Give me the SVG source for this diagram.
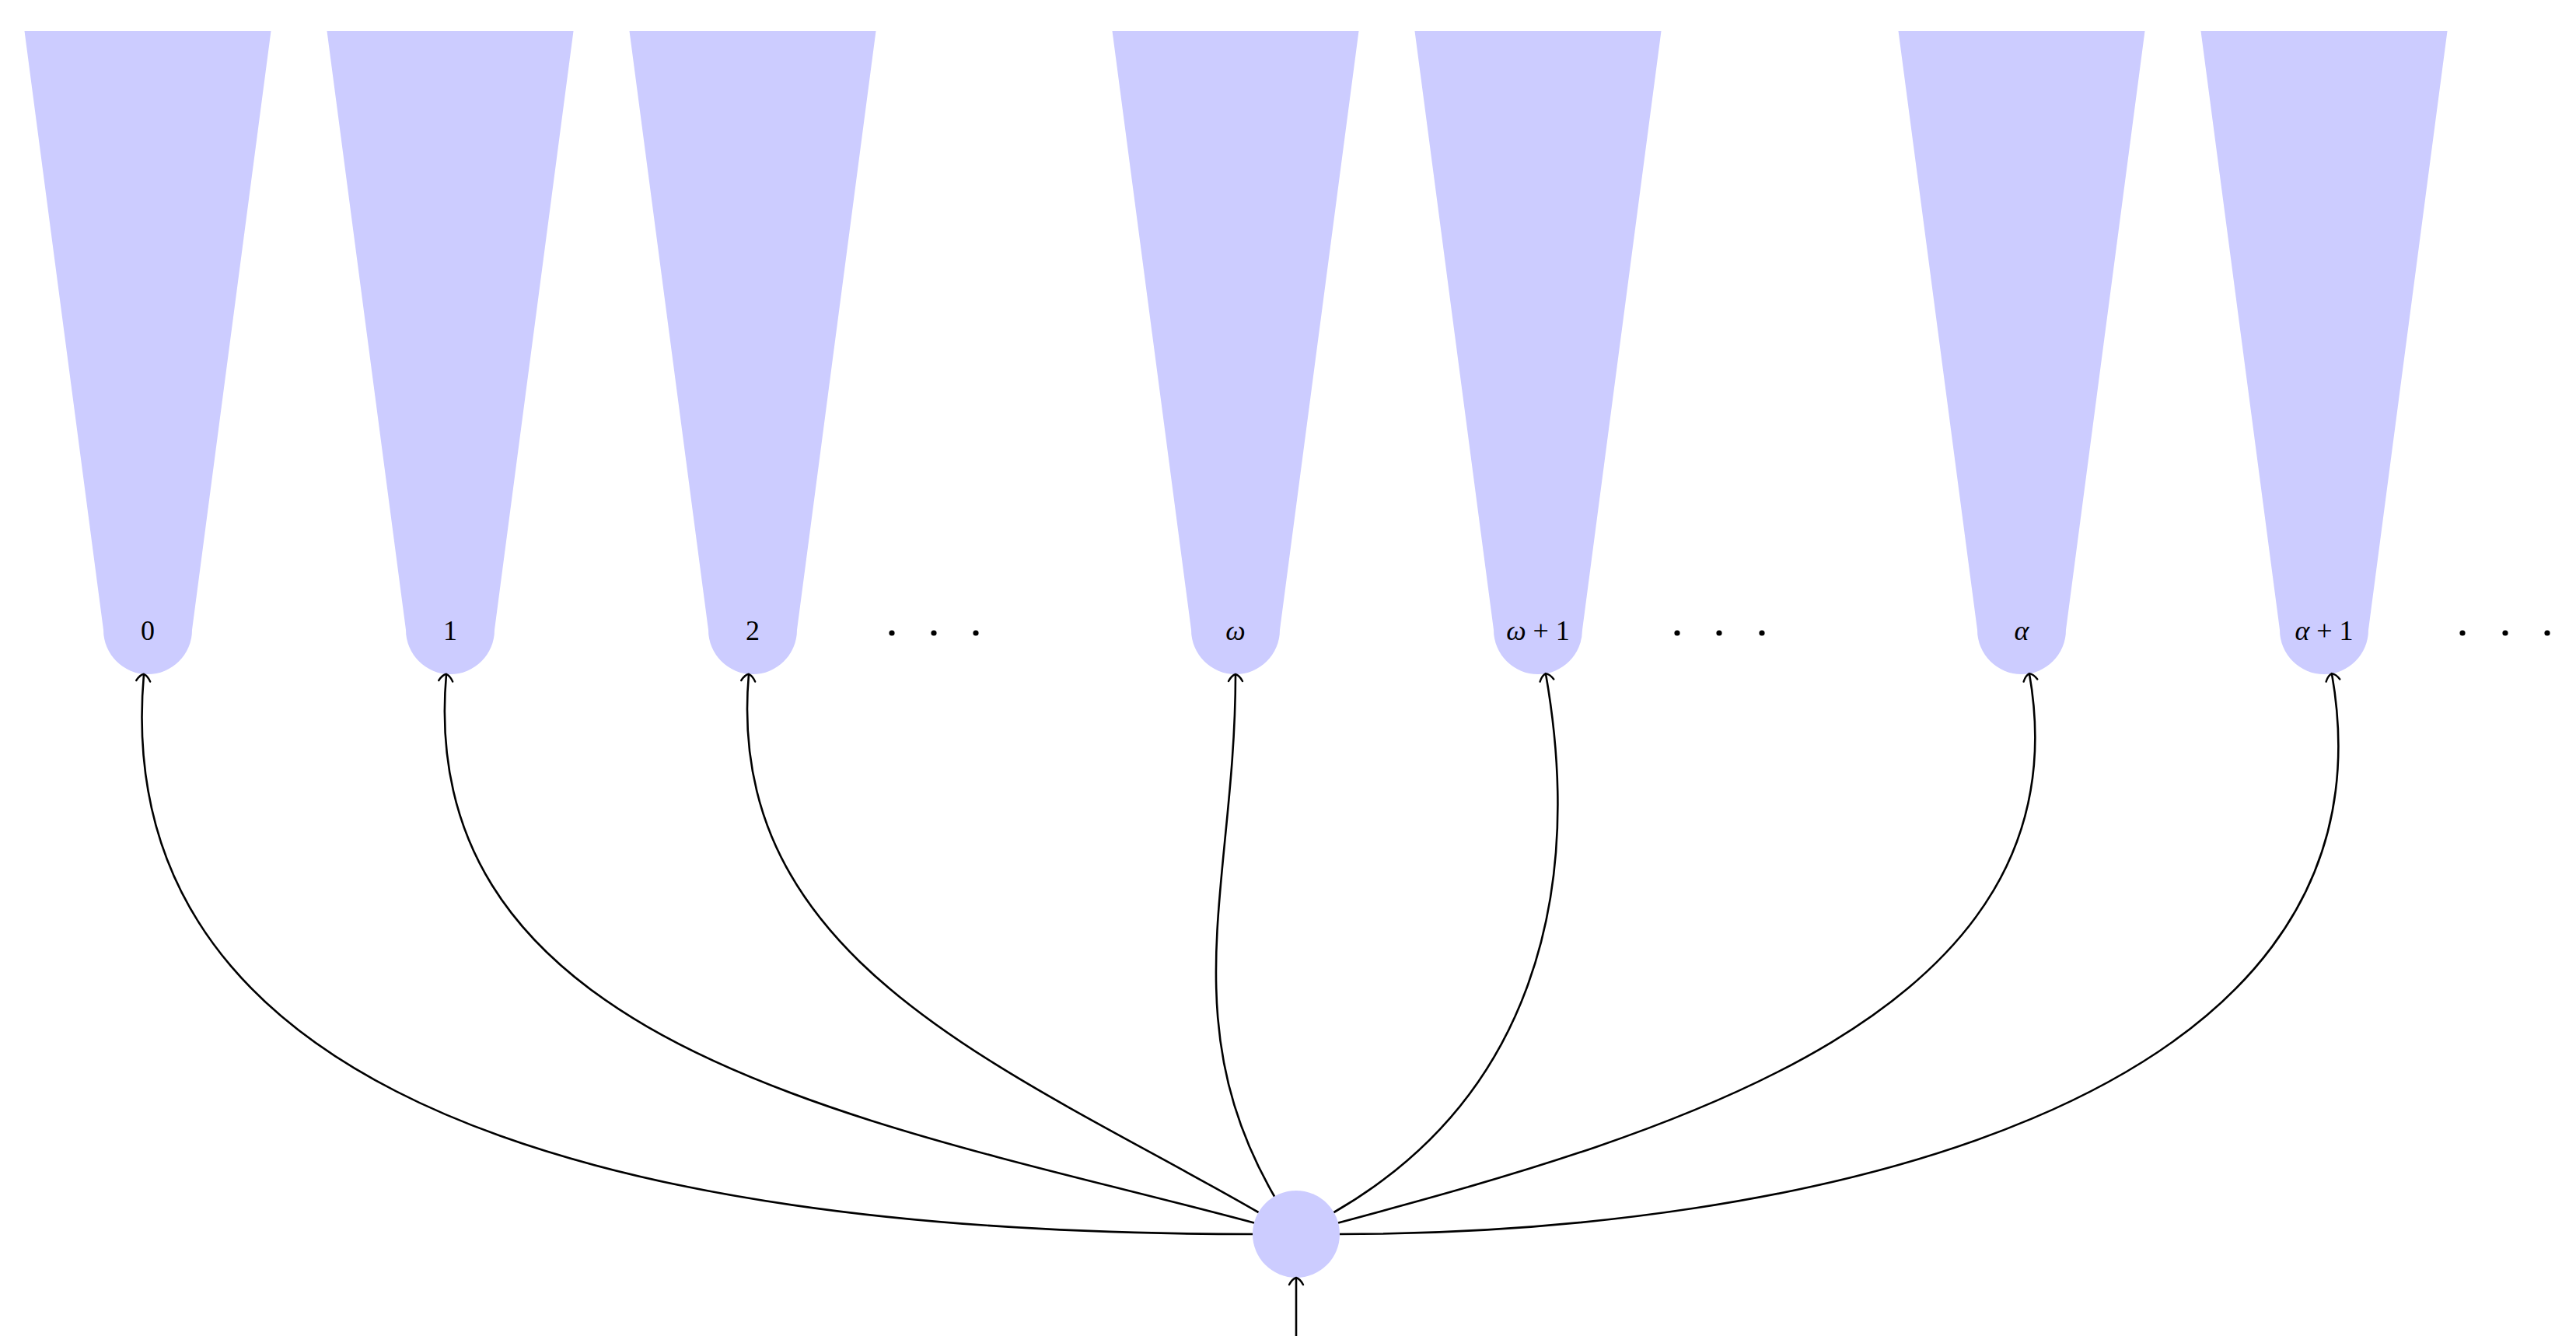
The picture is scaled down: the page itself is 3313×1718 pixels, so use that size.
<svg xmlns="http://www.w3.org/2000/svg" width="3313" height="1718" viewBox="0 0 3313 1718">
<style>
.fill{fill:#ccccff;stroke:none}
.lbl{font-family:"Liberation Serif","DejaVu Serif",serif;font-size:36px;fill:#000;text-anchor:middle}
.it{font-style:italic}
.edge{fill:none;stroke:#000;stroke-width:2.6;marker-end:url(#to)}
.dot{fill:#000}
</style>
<defs>
<marker id="to" markerUnits="userSpaceOnUse" orient="auto" refX="0" refY="0" markerWidth="24" markerHeight="24" overflow="visible">
<path d="M -9,-9 Q -1.5,-5 0,0 Q -1.5,5 -9,9" fill="none" stroke="#000" stroke-width="2.4" stroke-linecap="round"/>
</marker>
<path id="funnel" d="M -158.5,40 L 158.5,40 L 57,810 A 57 57 0 0 1 -57,810 Z"/>
</defs>
<rect width="3313" height="1718" fill="#fff"/>
<g id="f0"><use href="#funnel" class="fill" x="190"/><text class="lbl" x="190" y="823">0</text></g>
<g id="f1"><use href="#funnel" class="fill" x="579"/><text class="lbl" x="579" y="823">1</text></g>
<g id="f2"><use href="#funnel" class="fill" x="968"/><text class="lbl" x="968" y="823">2</text></g>
<g id="fomega"><use href="#funnel" class="fill" x="1589"/><text class="lbl" x="1589" y="823"><tspan class="it">ω</tspan></text></g>
<g id="fomega1"><use href="#funnel" class="fill" x="1978"/><text class="lbl" x="1978" y="823"><tspan class="it">ω</tspan> + 1</text></g>
<g id="falpha"><use href="#funnel" class="fill" x="2600"/><text class="lbl" x="2600" y="823"><tspan class="it">α</tspan></text></g>
<g id="falpha1"><use href="#funnel" class="fill" x="2989"/><text class="lbl" x="2989" y="823"><tspan class="it">α</tspan> + 1</text></g>
<g id="dots1"><circle class="dot" cx="1147" cy="814" r="3.6"/><circle class="dot" cx="1201" cy="814" r="3.6"/><circle class="dot" cx="1255" cy="814" r="3.6"/></g>
<g id="dots2"><circle class="dot" cx="2157" cy="814" r="3.6"/><circle class="dot" cx="2211" cy="814" r="3.6"/><circle class="dot" cx="2266" cy="814" r="3.6"/></g>
<g id="dots3"><circle class="dot" cx="3167" cy="814" r="3.6"/><circle class="dot" cx="3222" cy="814" r="3.6"/><circle class="dot" cx="3276" cy="814" r="3.6"/></g>
<g id="root"><circle class="fill" cx="1667" cy="1587" r="56"/></g>
<g id="connectors">
<path class="edge" d="M 1611,1587 C 985.6,1587 130.5,1489.8 185,866.8"/>
<path class="edge" d="M 1612.9,1572.5 C 1138,1445.2 531.1,1356.6 574,866.8"/>
<path class="edge" d="M 1618.5,1559 C 1295.3,1372.4 930.5,1238.6 963,866.8"/>
<path class="edge" d="M 1639,1538.5 C 1507.2,1310.2 1589,1130.6 1589,867"/>
<path class="edge" d="M 1715.5,1559 C 1967.9,1413.25 2038.5,1153.2 1987.9,866.1"/>
<path class="edge" d="M 1721.1,1572.5 C 2150.4,1457.5 2687.1,1303.8 2609.9,866.1"/>
<path class="edge" d="M 1723,1587 C 2296.7,1587 3098.5,1431.1 2998.9,866.1"/>
<path class="edge" d="M 1667,1718 L 1667,1643"/>
</g>
</svg>
